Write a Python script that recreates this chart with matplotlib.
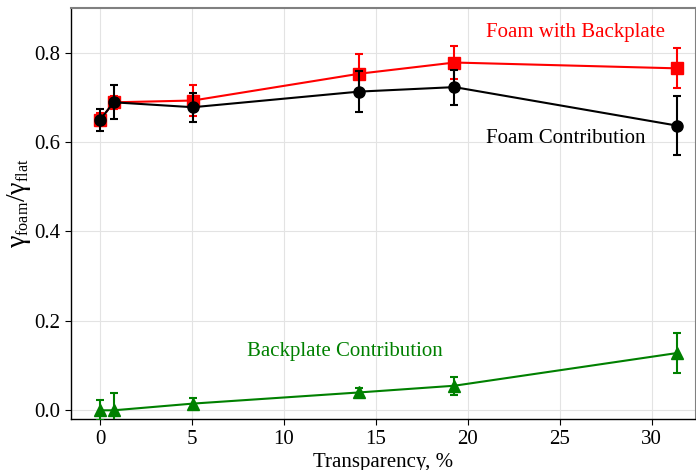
import matplotlib.pyplot as plt
import matplotlib._mathtext as mathtext_internal

# transparency (%) for each sample
transparency = [0, 0.75, 5.05, 14.1, 19.27, 31.35]

foam_backplate = [0.650, 0.689, 0.693, 0.753, 0.778, 0.765]
foam_backplate_err = [0.015, 0.015, 0.034, 0.045, 0.037, 0.045]

foam_contrib = [0.650, 0.689, 0.678, 0.713, 0.723, 0.637]
foam_contrib_err = [0.025, 0.038, 0.032, 0.045, 0.039, 0.066]

backplate_contrib = [0.0, 0.0, 0.015, 0.040, 0.055, 0.128]
backplate_contrib_err = [0.022, 0.038, 0.012, 0.011, 0.020, 0.045]

plt.rcParams['font.family'] = 'Liberation Serif'
plt.rcParams['mathtext.fontset'] = 'custom'
plt.rcParams['mathtext.rm'] = 'Liberation Serif'
plt.rcParams['mathtext.it'] = 'Liberation Serif:italic'
# smaller subscripts, like the LaTeX label in the original
mathtext_internal.SHRINK_FACTOR = 0.58

fig, ax = plt.subplots(figsize=(6.96, 4.70), dpi=100)
fig.subplots_adjust(left=0.102, right=1.0, top=0.983, bottom=0.108)

common = dict(lw=1.5, elinewidth=1.5, capsize=3, capthick=1.5)
ax.errorbar(transparency, foam_backplate, yerr=foam_backplate_err, color='red',
            marker='s', ms=8, zorder=3, **common)
ax.errorbar(transparency, foam_contrib, yerr=foam_contrib_err, color='black',
            marker='o', ms=8, zorder=4, **common)
ax.errorbar(transparency, backplate_contrib, yerr=backplate_contrib_err, color='green',
            marker='^', ms=8, zorder=3, **common)

ax.text(21.0, 0.845, 'Foam with Backplate', color='red', fontsize=15, va='center')
ax.text(21.0, 0.608, 'Foam Contribution', color='black', fontsize=15, va='center')
ax.text(8.0, 0.132, 'Backplate Contribution', color='green', fontsize=15, va='center')

ax.set_xlim(-1.58, 32.4)
ax.set_ylim(-0.02, 0.9)
ax.set_xticks([0, 5, 10, 15, 20, 25, 30])
ax.set_yticks([0.0, 0.2, 0.4, 0.6, 0.8])
ax.tick_params(labelsize=15, length=4, color='black')
ax.grid(True, color='#e3e3e3', lw=0.8)
ax.set_axisbelow(True)

for s in ['top', 'right']:
    ax.spines[s].set_color('gray')
    ax.spines[s].set_linewidth(1.5)
for s in ['left', 'bottom']:
    ax.spines[s].set_color('black')
    ax.spines[s].set_linewidth(1.0)

ax.set_xlabel('Transparency, %', fontsize=15, labelpad=3)
ax.set_ylabel(r'$\mathrm{γ}_{\mathrm{foam}}/\mathrm{γ}_{\mathrm{flat}}$',
              fontsize=20)
ax.yaxis.set_label_coords(-0.06, 0.525)

fig.savefig('out.png', dpi=100)
